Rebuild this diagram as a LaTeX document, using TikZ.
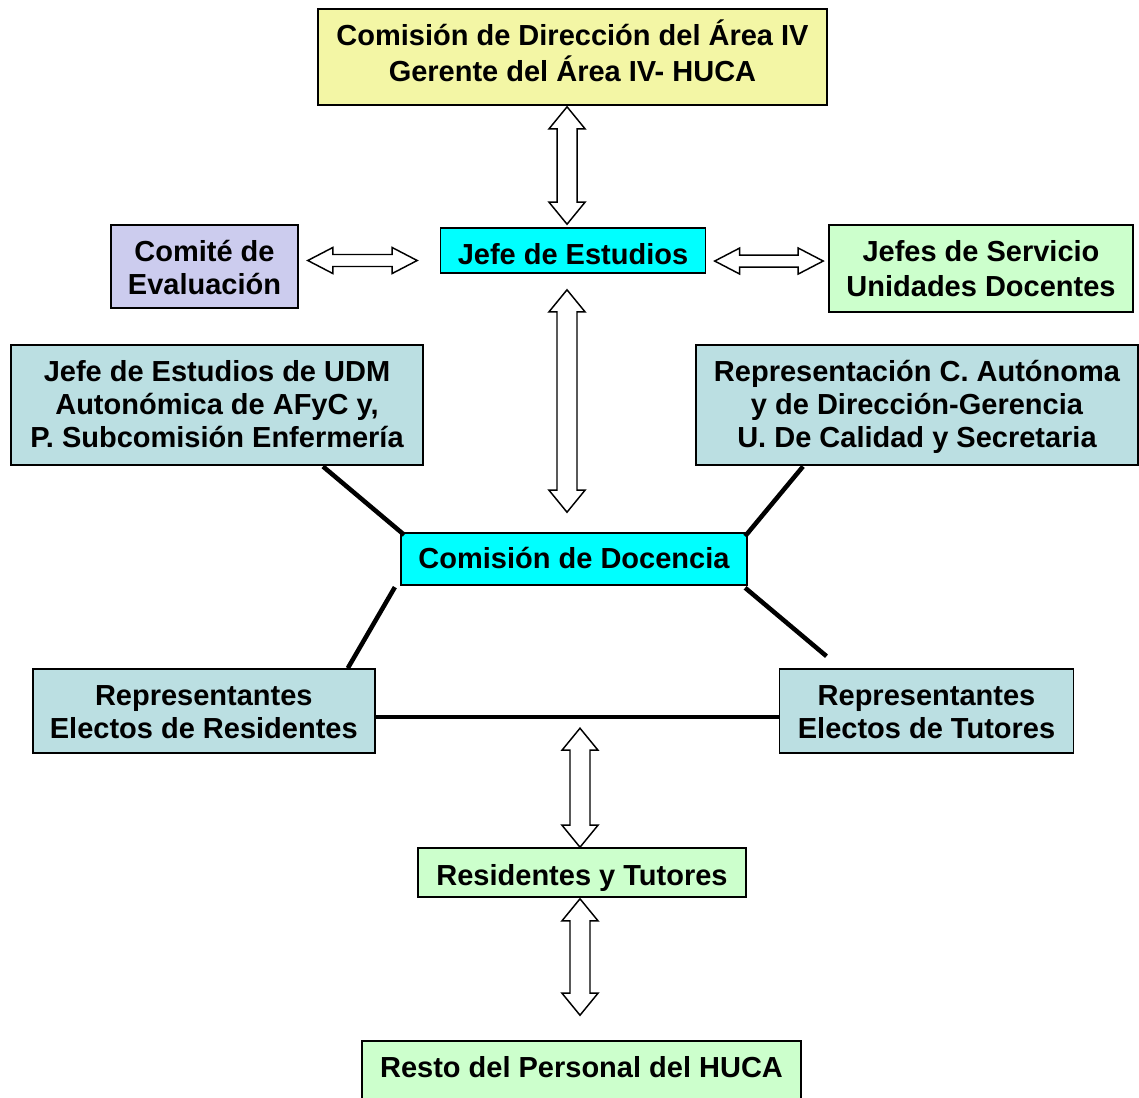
\documentclass[tikz,border=0pt]{standalone}
\usepackage{fontspec}
\setmainfont{Liberation Sans}
\usetikzlibrary{calc}
\definecolor{cyellow}{RGB}{243,246,165}
\definecolor{ccyan}{RGB}{0,255,255}
\definecolor{clav}{RGB}{204,204,238}
\definecolor{cgreen}{RGB}{204,255,204}
\definecolor{cblue}{RGB}{187,223,226}
% #1: baseline of first line above node centre, #2: line spacing, #3: text
\newcommand\rtext[3]{\raisebox{#1}[0pt][0pt]{\fontsize{21.75}{#2}\selectfont\begin{tabular}[t]{@{}c@{}}#3\end{tabular}}}
\newcommand\vdarrow[2]{\draw[barrow] let \p1=(#1),\p2=(#2) in
  (\x1,\y1) -- (\x1+13.5pt,\y1-16.5pt) -- (\x1+7.5pt,\y1-16.5pt) -- (\x1+7.5pt,\y2+16.5pt) -- (\x1+13.5pt,\y2+16.5pt) -- (\x1,\y2)
  -- (\x1-13.5pt,\y2+16.5pt) -- (\x1-7.5pt,\y2+16.5pt) -- (\x1-7.5pt,\y1-16.5pt) -- (\x1-13.5pt,\y1-16.5pt) -- cycle;}
\newcommand\hdarrow[2]{\draw[barrow] let \p1=(#1),\p2=(#2) in
  (\x1,\y1) -- (\x1+18.75pt,\y1+9.75pt) -- (\x1+18.75pt,\y1+4.5pt) -- (\x2-18.75pt,\y1+4.5pt) -- (\x2-18.75pt,\y1+9.75pt) -- (\x2,\y1)
  -- (\x2-18.75pt,\y1-9.75pt) -- (\x2-18.75pt,\y1-4.5pt) -- (\x1+18.75pt,\y1-4.5pt) -- (\x1+18.75pt,\y1-9.75pt) -- cycle;}
\begin{document}
\begin{tikzpicture}[x=0.75pt,y=-0.75pt,
  box/.style={draw=black,line width=1.2pt,inner sep=0pt,align=center,
    font=\fontsize{21.75}{25}\selectfont\bfseries},
  conn/.style={line width=3.4pt,draw=black},
  barrow/.style={draw=black,fill=white,line width=1.1pt,line join=miter}]
\useasboundingbox (0,0) rectangle (1139,1097);
% boxes
\node[box,fill=cyellow,minimum width={509*0.75pt},minimum height={96*0.75pt}] (top) at (572.5,57)
  {\rtext{9pt}{26.25pt}{Comisión de Dirección del Área IV\\Gerente del Área IV- HUCA}};
\node[box,fill=ccyan,minimum width={265*0.75pt},minimum height={45*0.75pt}] (jefe) at (573,250.5)
  {\rtext{-10.5pt}{25pt}{Jefe de Estudios}};
\node[box,fill=clav,minimum width={187*0.75pt},minimum height={83*0.75pt}] (comite) at (204.5,266.5)
  {\rtext{3.75pt}{24.75pt}{Comité de\\Evaluación}};
\node[box,fill=cgreen,minimum width={304*0.75pt},minimum height={87*0.75pt}] (jefes) at (981,268.5)
  {\rtext{5.25pt}{26.25pt}{Jefes de Servicio\\Unidades Docentes}};
\node[box,fill=cblue,minimum width={412.5*0.75pt},minimum height={120*0.75pt}] (udm) at (217,405)
  {\rtext{18pt}{24.75pt}{Jefe de Estudios de UDM\\Autonómica de AFyC y,\\P. Subcomisión Enfermería}};
\node[box,fill=cblue,minimum width={441.6*0.75pt},minimum height={120*0.75pt}] (repc) at (917,405)
  {\rtext{18pt}{24.75pt}{Representación C. Autónoma\\y de Dirección-Gerencia\\U. De Calidad y Secretaria}};
\node[box,fill=ccyan,minimum width={346*0.75pt},minimum height={52*0.75pt}] (comision) at (574,559)
  {\rtext{-7.1pt}{25pt}{Comisión de Docencia}};
\node[box,fill=cblue,minimum width={342*0.75pt},minimum height={84*0.75pt}] (repres) at (203.8,711)
  {\rtext{4.3pt}{25pt}{Representantes\\Electos de Residentes}};
\node[box,fill=cblue,minimum width={294*0.75pt},minimum height={84*0.75pt}] (reptut) at (926.5,711)
  {\rtext{4.3pt}{25pt}{Representantes\\Electos de Tutores}};
\node[box,fill=cgreen,minimum width={328*0.75pt},minimum height={49*0.75pt}] (resytut) at (582,872.5)
  {\rtext{-9.4pt}{25pt}{Residentes y Tutores}};
\node[box,fill=cgreen,minimum width={439*0.75pt},minimum height={64*0.75pt}] (resto) at (581.5,1073)
  {\rtext{-3pt}{25pt}{Resto del Personal del HUCA}};
% connectors (lines)
\coordinate (tutend) at ([xshift=-75pt,yshift=9pt]reptut.north);
\draw[conn] ([xshift=79.5pt,yshift=-0.5pt]udm.south) -- ([xshift=3pt,yshift=-2pt]comision.north west);
\draw[conn] ([xshift=-85.5pt,yshift=-0.5pt]repc.south) -- ([xshift=-2pt,yshift=-3pt]comision.north east);
\draw[conn] ([xshift=-4pt,yshift=-1pt]comision.south west) -- ([xshift=108pt]repres.north);
\draw[conn] ([xshift=-2pt,yshift=-1.5pt]comision.south east) -- (tutend);
\draw[conn] ([yshift=-4.5pt]repres.east) -- ([yshift=-4.5pt]reptut.west);
% block double arrows
\vdarrow{[xshift=-4.1pt,yshift=-0.75pt]top.south}{[yshift=2.25pt]jefe.north}
\vdarrow{[xshift=-4.5pt,yshift=-12pt]jefe.south}{[yshift=15pt]comision.north}
\vdarrow{[xshift=-1.5pt,yshift=89.25pt]resytut.north}{resytut.north}
\vdarrow{[xshift=-1.5pt,yshift=-0.75pt]resytut.south}{[yshift=18.75pt]resto.north}
\hdarrow{[xshift=6.75pt,yshift=4.5pt]comite.east}{[xshift=-16.9pt,yshift=-7.5pt]jefe.west}
\hdarrow{[xshift=6.3pt,yshift=-7.9pt]jefe.east}{[xshift=-3.75pt]jefes.west}
\end{tikzpicture}
\end{document}
